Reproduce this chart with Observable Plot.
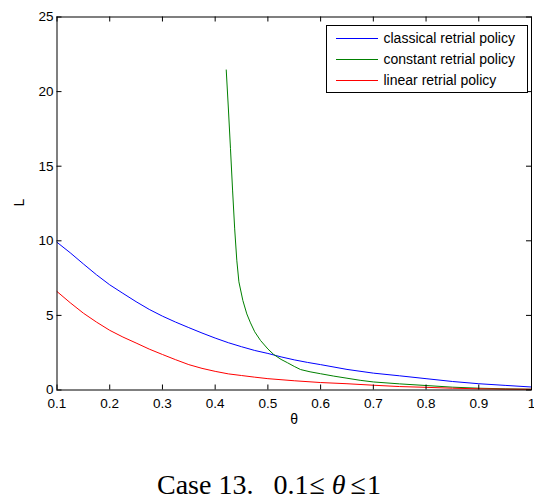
<!DOCTYPE html>
<html>
<head>
<meta charset="utf-8">
<script src="https://cdn.jsdelivr.net/npm/d3@7"></script>
<script src="https://cdn.jsdelivr.net/npm/@observablehq/plot@0.6"></script>
<style>
  html, body { margin: 0; padding: 0; background: #fff; }
  #wrap { position: relative; width: 534px; height: 502px; overflow: hidden; }
  #legend {
    position: absolute; left: 325.5px; top: 24.5px; width: 200px; height: 64px;
    border: 1px solid #000; background: #fff; box-sizing: content-box;
    font-family: "Liberation Sans", Arial, Helvetica, sans-serif; font-size: 14px; color: #000;
    padding-top: 2px;
  }
  .row { display: flex; align-items: center; height: 21px; }
  .swatch { display: inline-block; width: 42px; height: 1px; margin-left: 9px; }
  .lab { margin-left: 6px; white-space: nowrap; }
  #caption {
    position: absolute; left: 157px; top: 471px;
    font-family: "Liberation Serif", "Times New Roman", serif; font-size: 28px; line-height: 28px;
    color: #000; white-space: nowrap;
  }
</style>
</head>
<body>
<div id="wrap">
  <div id="chart"></div>
  <div id="legend"></div>
  <div id="caption"></div>
</div>
<script>
// ---- Data ----
const seriesNames = ["classical retrial policy", "constant retrial policy", "linear retrial policy"];
const seriesColors = ["#0000ff", "#008000", "#ff0000"];

const thetaClassical = [0.10, 0.125, 0.15, 0.175, 0.20, 0.225, 0.25, 0.275, 0.30, 0.325, 0.35, 0.375, 0.40, 0.425, 0.45, 0.475, 0.50, 0.525, 0.55, 0.575, 0.60, 0.65, 0.70, 0.75, 0.80, 0.85, 0.90, 0.95, 1.00];
const LClassical     = [9.9, 9.2, 8.45, 7.72, 7.05, 6.48, 5.92, 5.4, 4.95, 4.55, 4.18, 3.82, 3.48, 3.17, 2.9, 2.65, 2.45, 2.22, 2.02, 1.85, 1.7, 1.38, 1.13, 0.95, 0.76, 0.57, 0.42, 0.31, 0.2];

const thetaConstant = [0.421, 0.425, 0.429, 0.433, 0.437, 0.441, 0.445, 0.4525, 0.46, 0.467, 0.475, 0.486, 0.50, 0.511, 0.525, 0.537, 0.55, 0.562, 0.58, 0.60, 0.625, 0.65, 0.675, 0.70, 0.75, 0.80, 0.85, 0.90, 0.95, 1.00];
const LConstant     = [21.45, 18.9, 16.2, 13.4, 10.8, 8.7, 7.25, 6.0, 5.1, 4.5, 3.9, 3.32, 2.75, 2.38, 2.05, 1.83, 1.58, 1.37, 1.22, 1.09, 0.93, 0.79, 0.65, 0.54, 0.41, 0.3, 0.19, 0.12, 0.08, 0.05];

const thetaLinear = [0.10, 0.125, 0.15, 0.175, 0.20, 0.225, 0.25, 0.275, 0.30, 0.325, 0.35, 0.375, 0.40, 0.425, 0.45, 0.475, 0.50, 0.55, 0.60, 0.65, 0.70, 0.75, 0.80, 0.85, 0.90, 0.95, 1.00];
const LLinear     = [6.6, 5.85, 5.15, 4.55, 4.0, 3.55, 3.15, 2.74, 2.38, 2.03, 1.7, 1.45, 1.25, 1.08, 0.97, 0.86, 0.76, 0.62, 0.5, 0.42, 0.32, 0.23, 0.18, 0.12, 0.08, 0.06, 0.05];

const xTicks = [0.1, 0.2, 0.3, 0.4, 0.5, 0.6, 0.7, 0.8, 0.9, 1];
const yTicks = [0, 5, 10, 15, 20, 25];
const xLabel = "θ";
const yLabel = "L";

// ---- Build rows ----
const rows = [];
[[thetaClassical, LClassical], [thetaConstant, LConstant], [thetaLinear, LLinear]].forEach(([xs, ys], i) => {
  xs.forEach((t, j) => rows.push({series: seriesNames[i], theta: t, L: ys[j]}));
});

const W = 534, H = 430;
const mL = 56.5, mR = 3, mT = 16.5, mB = 40.5;
const innerW = W - mL - mR, innerH = H - mT - mB;
const font = '"Liberation Sans", Arial, Helvetica, sans-serif';
const tickLen = 5;

const chart = Plot.plot({
  width: W, height: H,
  marginLeft: mL, marginRight: mR, marginTop: mT, marginBottom: mB,
  style: {background: "#fff", fontFamily: font, fontSize: "13.5px", color: "#000", overflow: "visible"},
  x: {domain: [0.1, 1]},
  y: {domain: [0, 25]},
  color: {domain: seriesNames, range: seriesColors},
  marks: [
    Plot.line(rows, {x: "theta", y: "L", z: "series", stroke: "series", strokeWidth: 1}),
    Plot.frame({stroke: "#000", strokeWidth: 1}),
    // inward ticks on all four sides
    Plot.tickX(xTicks, {x: d => d, insetTop: innerH - tickLen, stroke: "#000", strokeWidth: 1}),
    Plot.tickX(xTicks, {x: d => d, insetBottom: innerH - tickLen, stroke: "#000", strokeWidth: 1}),
    Plot.tickY(yTicks, {y: d => d, insetRight: innerW - tickLen, stroke: "#000", strokeWidth: 1}),
    Plot.tickY(yTicks, {y: d => d, insetLeft: innerW - tickLen, stroke: "#000", strokeWidth: 1}),
    Plot.axisX(xTicks, {tickSize: 0, tickPadding: 8, label: null, fontSize: 13.5, tickFormat: d => String(d)}),
    Plot.axisY(yTicks, {tickSize: 0, tickPadding: 3.5, label: null, fontSize: 13.5, tickFormat: d => String(d)}),
    Plot.text([xLabel], {text: d => d, frameAnchor: "bottom", dy: 34, fontSize: 14, fill: "#000"}),
    Plot.text([yLabel], {text: d => d, frameAnchor: "left", dx: -37, dy: 3, rotate: -90, fontSize: 14, fill: "#000"})
  ]
});
document.getElementById("chart").appendChild(chart);

// ---- Legend ----
const legend = document.getElementById("legend");
seriesNames.forEach((name, i) => {
  const row = document.createElement("div");
  row.className = "row";
  const sw = document.createElement("span");
  sw.className = "swatch";
  sw.style.background = seriesColors[i];
  const lab = document.createElement("span");
  lab.className = "lab";
  lab.textContent = name;
  row.appendChild(sw); row.appendChild(lab);
  legend.appendChild(row);
});

// ---- Caption ----
const cap = document.getElementById("caption");
cap.innerHTML = 'Case 13.<span style="margin-left:20px">0.1</span><span style="margin-left:1px">≤</span><i style="margin-left:7px">θ</i><span style="margin-left:5px">≤</span><span style="margin-left:1px">1</span>';

// sanity check: inward tick lines must exist
const tickLines = chart.querySelectorAll('g[aria-label="tick"] line');
if (tickLines.length < 2 * (xTicks.length + yTicks.length)) {
  throw new Error("tick lines missing: " + tickLines.length + " " + Array.from(chart.querySelectorAll("g[aria-label]")).map(g => g.getAttribute("aria-label")).join(","));
}
</script>
</body>
</html>
